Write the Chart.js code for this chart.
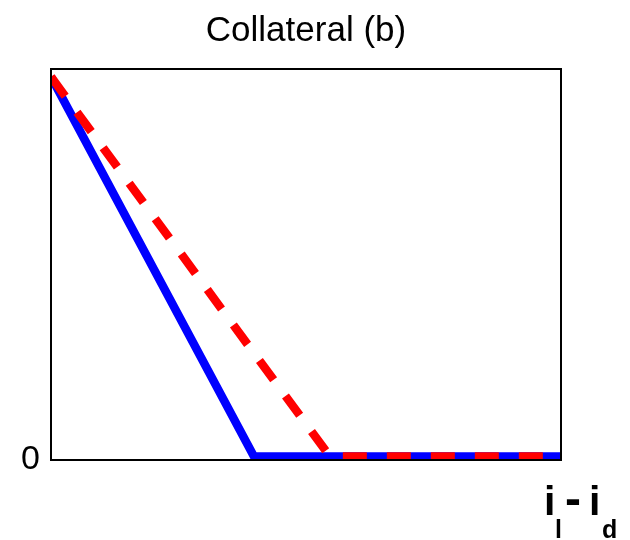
<!DOCTYPE html>
<html>
<head>
<meta charset="utf-8">
<script src="https://cdn.jsdelivr.net/npm/chart.js@4"></script>
<style>
  body { margin: 0; background: #fff; }
  #wrap { width: 630px; height: 540px; }
</style>
</head>
<body>
<div id="wrap"><canvas id="ch1" width="630" height="540"></canvas></div>
<script>
// values (x and y both run 0..1)
var blueX = [0, 0.398, 1];
var blueY = [0.98, 0.009, 0.009];
var redX = [0, 0.547, 1];
var redY = [0.98, 0.009, 0.009];
var yTicks = [0];
var titleText = 'Collateral (b)';

function toPoints(xs, ys) {
  return xs.map(function (x, i) { return { x: x, y: ys[i] }; });
}

// box round the plot, title over the plot area, x label with subscripts
var boxAndLabel = {
  id: 'boxAndLabel',
  afterDraw: function (chart) {
    var ctx = chart.ctx, a = chart.chartArea;
    ctx.save();
    ctx.strokeStyle = '#000';
    ctx.lineWidth = 2;
    ctx.strokeRect(a.left, a.top, a.right - a.left, a.bottom - a.top);

    ctx.fillStyle = '#000';
    ctx.textAlign = 'center';
    ctx.textBaseline = 'middle';
    ctx.font = '35px "Liberation Sans", Arial, sans-serif';
    ctx.fillText(titleText, (a.left + a.right) / 2, 31);

    ctx.textBaseline = 'alphabetic';
    ctx.textAlign = 'left';
    var big = 'bold 41px "Liberation Sans", Arial, sans-serif';
    var small = 'bold 25px "Liberation Sans", Arial, sans-serif';
    var dash = 'bold 48px "Liberation Sans", Arial, sans-serif';
    // text, font, x, baseline
    var parts = [['i', big, 544, 515], ['l', small, 555, 538], ['-', dash, 565, 515],
                 ['i', big, 589, 515], ['d', small, 602, 538]];
    parts.forEach(function (p) {
      ctx.font = p[1];
      ctx.fillText(p[0], p[2], p[3]);
    });
    ctx.restore();
  }
};

var ctx = document.getElementById('ch1').getContext('2d');
var myChart = new Chart(ctx, {
  type: 'line',
  data: {
    datasets: [{
      label: 'blue',
      data: toPoints(blueX, blueY),
      borderColor: '#0000ff',
      borderWidth: 8.5,
      pointRadius: 0,
      tension: 0,
      order: 2
    }, {
      label: 'red',
      data: toPoints(redX, redY),
      borderColor: '#ff0000',
      borderWidth: 8.5,
      borderDash: [24, 20],
      borderCapStyle: 'butt',
      pointRadius: 0,
      tension: 0,
      order: 1
    }]
  },
  options: {
    responsive: false,
    animation: false,
    layout: { padding: { top: 69, right: 69 } },
    plugins: {
      legend: { display: false },
      tooltip: { enabled: false },
      title: { display: false }
    },
    scales: {
      x: {
        type: 'linear',
        min: 0,
        max: 1,
        grid: { display: false },
        border: { display: false },
        ticks: { display: false },
        afterFit: function (scale) { scale.height = 80; }
      },
      y: {
        min: 0,
        max: 1,
        grid: { display: false, drawTicks: false },
        border: { display: false },
        afterBuildTicks: function (scale) {
          scale.ticks = yTicks.map(function (v) { return { value: v }; });
        },
        ticks: {
          color: '#000',
          padding: 11,
          font: { family: '"Liberation Sans", Arial, sans-serif', size: 34 },
          callback: function (v) { return String(v); }
        },
        afterFit: function (scale) { scale.width = 51; }
      }
    }
  },
  plugins: [boxAndLabel]
});
</script>
</body>
</html>
